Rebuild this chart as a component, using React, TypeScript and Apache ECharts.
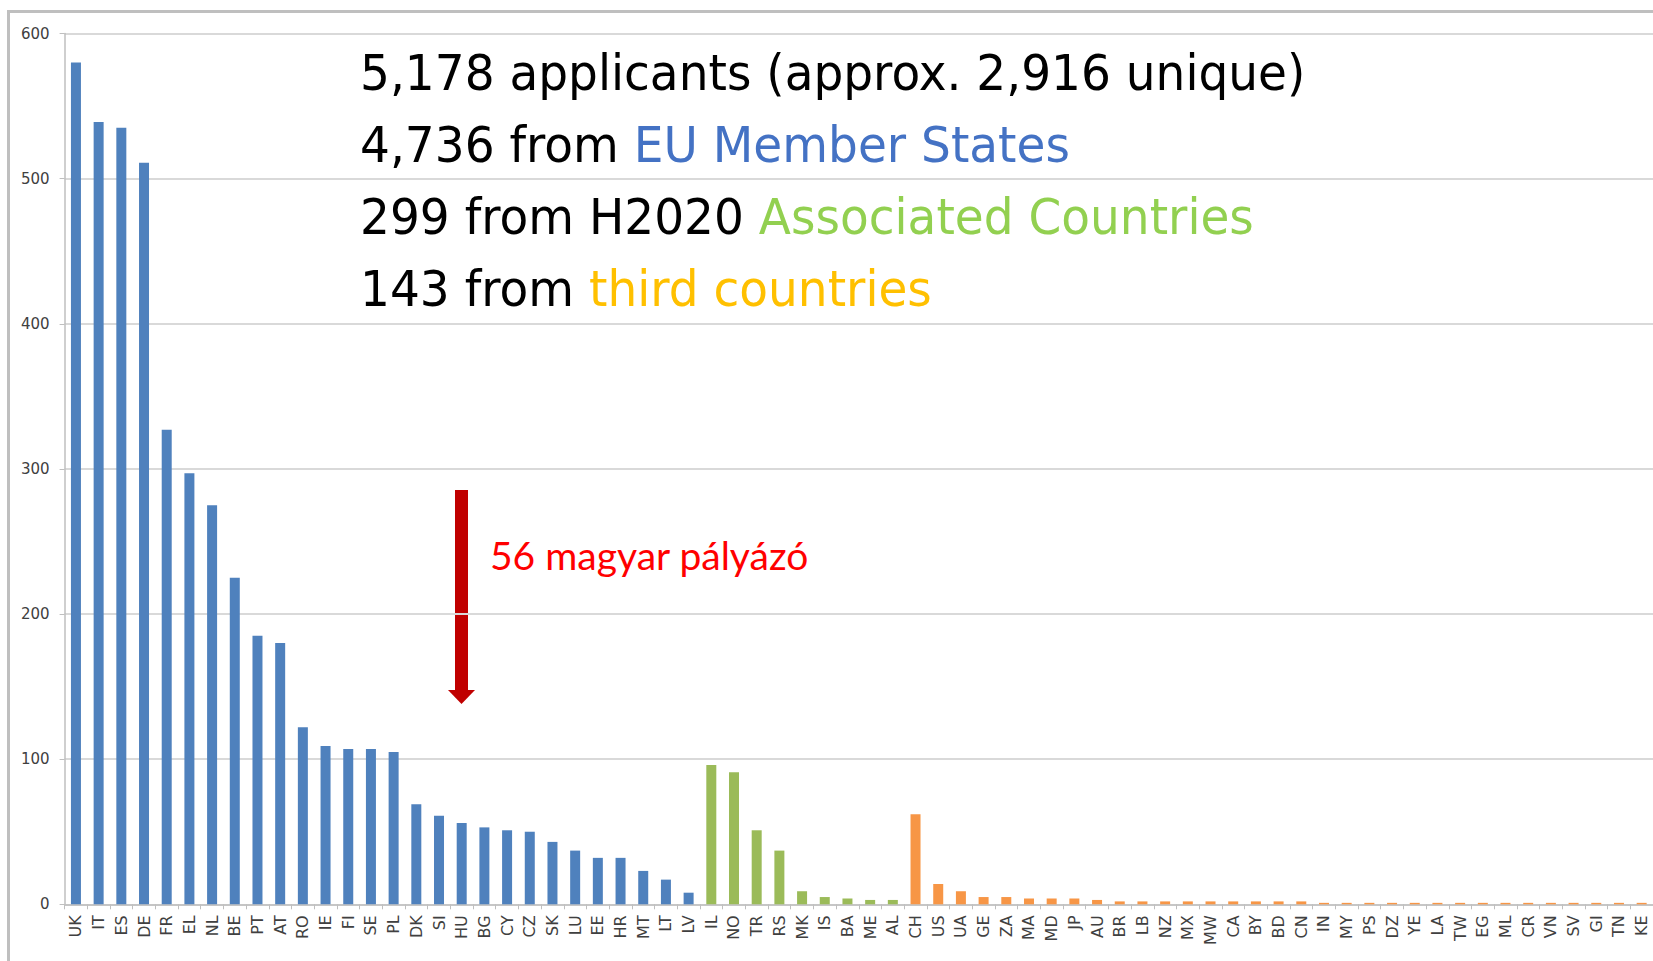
import React, { useEffect, useRef } from "react";
import * as echarts from "echarts";

const euCountries = ["UK","IT","ES","DE","FR","EL","NL","BE","PT","AT","RO","IE","FI","SE","PL","DK","SI","HU","BG","CY","CZ","SK","LU","EE","HR","MT","LT","LV"];
const euValues = [580,539,535,511,327,297,275,225,185,180,122,109,107,107,105,69,61,56,53,51,50,43,37,32,32,23,17,8];

const assocCountries = ["IL","NO","TR","RS","MK","IS","BA","ME","AL"];
const assocValues = [96,91,51,37,9,5,4,3,3];

const thirdCountries = ["CH","US","UA","GE","ZA","MA","MD","JP","AU","BR","LB","NZ","MX","MW","CA","BY","BD","CN","IN","MY","PS","DZ","YE","LA","TW","EG","ML","CR","VN","SV","GI","TN","KE"];
const thirdValues = [62,14,9,5,5,4,4,4,3,2,2,2,2,2,2,2,2,2,1,1,1,1,1,1,1,1,1,1,1,1,1,1,1];

const yTicks = [0, 100, 200, 300, 400, 500, 600];

const EU_COLOR = "#4F81BD";
const ASSOC_COLOR = "#9BBB59";
const THIRD_COLOR = "#F79646";

export default function App() {
  const ref = useRef<HTMLDivElement>(null);
  useEffect(() => {
    document.body.style.margin = "0";
    const chart = echarts.init(ref.current!, undefined, { renderer: "svg" });
    const categories = [...euCountries, ...assocCountries, ...thirdCountries];
    const data = [
      ...euValues.map((v) => ({ value: v, itemStyle: { color: EU_COLOR } })),
      ...assocValues.map((v) => ({ value: v, itemStyle: { color: ASSOC_COLOR } })),
      ...thirdValues.map((v) => ({ value: v, itemStyle: { color: THIRD_COLOR } })),
    ];
    const titleFont = "DejaVu Sans";
    const sx = 0.94;
    const fs = 50;
    chart.setOption({
      animation: false,
      backgroundColor: "#ffffff",
      grid: { left: 64.6, right: -0.4, top: 33.5, bottom: 56.7, containLabel: false },
      xAxis: {
        type: "category",
        data: categories,
        axisLine: { show: true, lineStyle: { color: "#bfbfbf", width: 1.5 } },
        axisTick: { show: true, length: 5, lineStyle: { color: "#bfbfbf" } },
        axisLabel: {
          interval: 0,
          rotate: 90,
          fontFamily: "DejaVu Sans",
          fontSize: 16,
          color: "#404040",
          margin: 11,
        },
      },
      yAxis: {
        type: "value",
        min: yTicks[0],
        max: yTicks[yTicks.length - 1],
        interval: 100,
        axisLine: { show: true, lineStyle: { color: "#bfbfbf", width: 1.5 } },
        axisTick: { show: true, length: 5, lineStyle: { color: "#bfbfbf" } },
        splitLine: { show: true, lineStyle: { color: "#d9d9d9", width: 2 } },
        axisLabel: { fontFamily: "DejaVu Sans", fontSize: 15, color: "#404040", margin: 15 },
      },
      series: [
        {
          type: "bar",
          data,
          barWidth: 10,
        },
      ],
      graphic: [
        {
          type: "rect",
          shape: { x: 8.5, y: 11.5, width: 1700, height: 1000 },
          style: { fill: "none", stroke: "#bfbfbf", lineWidth: 3 },
          silent: true,
        },
        {
          type: "text",
          x: 360,
          y: 72,
          scaleX: sx,
          style: { text: "5,178 applicants (approx. 2,916 unique)", fontFamily: titleFont, fontSize: fs, fill: "#000000", verticalAlign: "middle" },
        },
        {
          type: "text",
          x: 360,
          y: 144,
          scaleX: sx,
          style: {
            text: "{a|4,736 from }{b|EU Member States}",
            verticalAlign: "middle",
            rich: {
              a: { fontFamily: titleFont, fontSize: fs, fill: "#000000" },
              b: { fontFamily: titleFont, fontSize: fs, fill: "#4472C4" },
            },
          },
        },
        {
          type: "text",
          x: 360,
          y: 216,
          scaleX: sx,
          style: {
            text: "{a|299 from H2020 }{b|Associated Countries}",
            verticalAlign: "middle",
            rich: {
              a: { fontFamily: titleFont, fontSize: fs, fill: "#000000" },
              b: { fontFamily: titleFont, fontSize: fs, fill: "#92D050" },
            },
          },
        },
        {
          type: "text",
          x: 360,
          y: 288,
          scaleX: sx,
          style: {
            text: "{a|143 from }{b|third countries}",
            verticalAlign: "middle",
            rich: {
              a: { fontFamily: titleFont, fontSize: fs, fill: "#000000" },
              b: { fontFamily: titleFont, fontSize: fs, fill: "#FFC000" },
            },
          },
        },
        {
          type: "rect",
          shape: { x: 455, y: 490, width: 13, height: 202 },
          style: { fill: "#C00000" },
        },
        {
          type: "polygon",
          shape: { points: [[448, 690], [475, 690], [461.5, 704]] },
          style: { fill: "#C00000" },
        },
        {
          type: "text",
          x: 490,
          y: 555,
          style: { text: "56 magyar pályázó", fontFamily: "Lato", fontSize: 39, fill: "#FF0000", verticalAlign: "middle" },
        },
      ],
    });
    return () => chart.dispose();
  }, []);
  return <div ref={ref} style={{ width: 1653, height: 961 }} />;
}
